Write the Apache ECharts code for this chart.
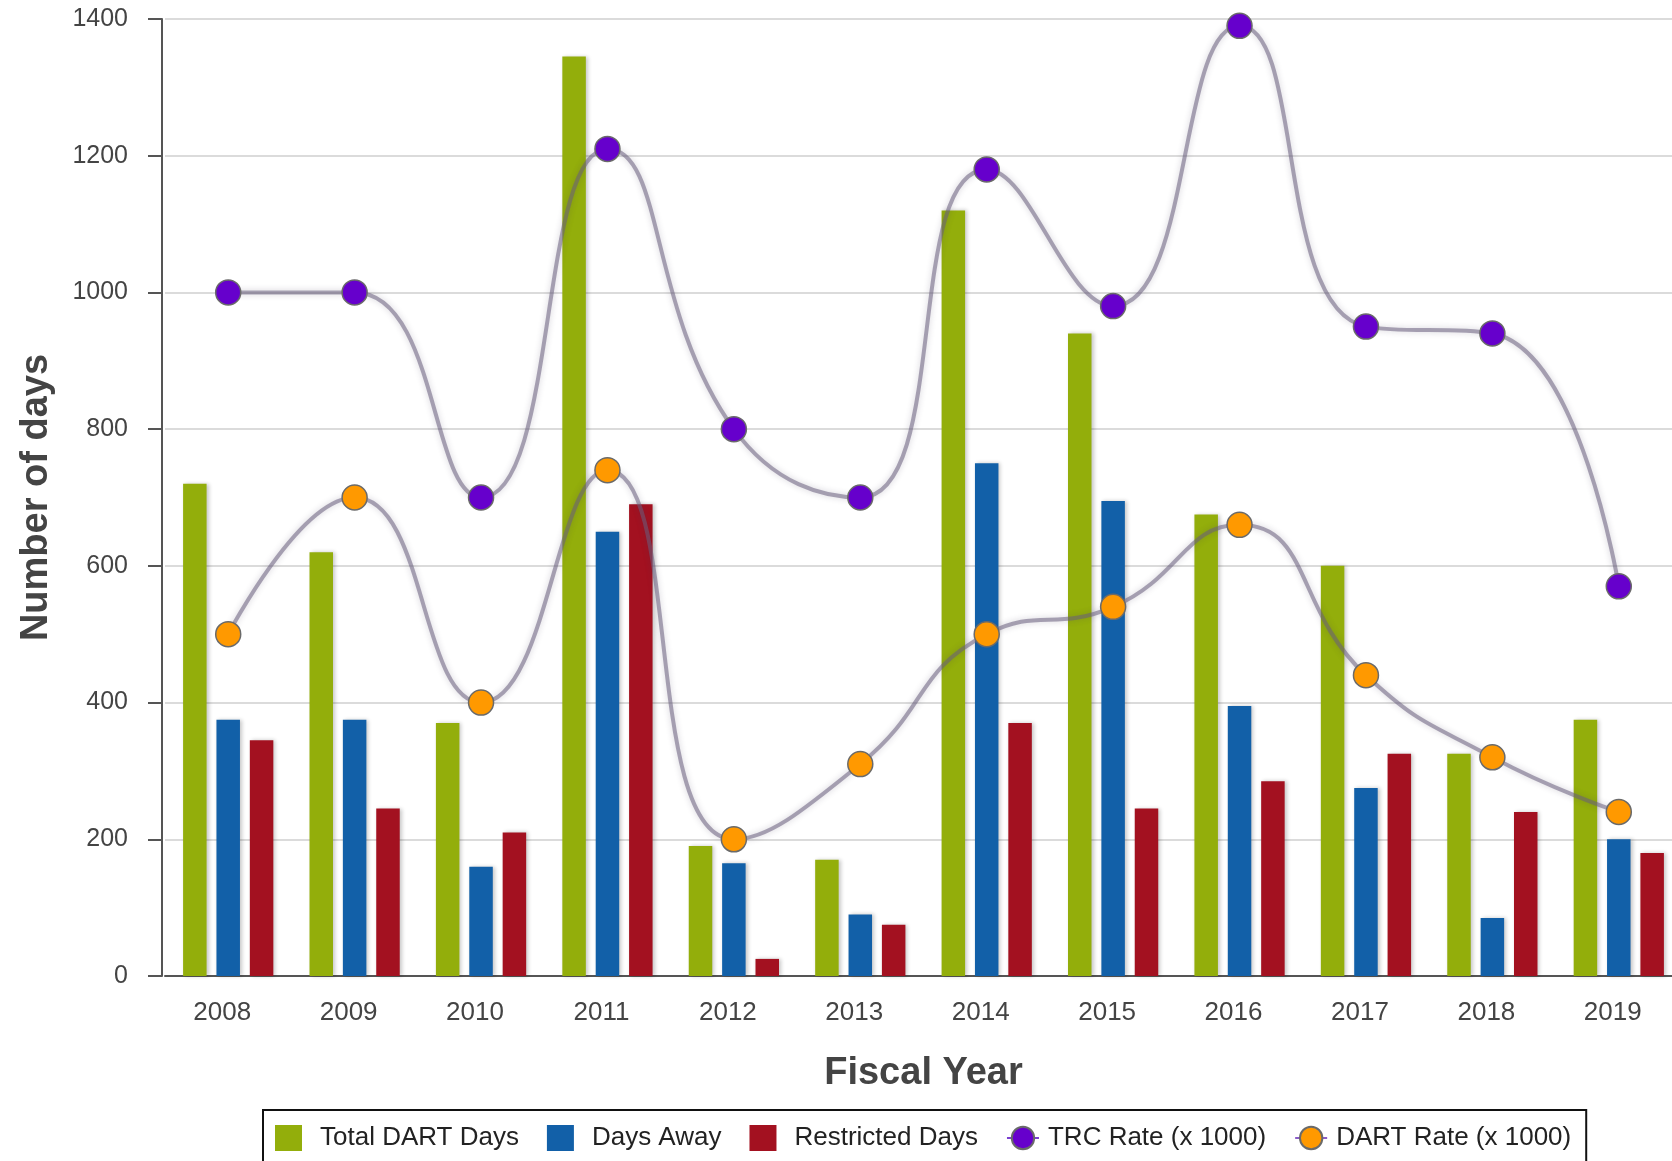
<!DOCTYPE html>
<html>
<head>
<meta charset="utf-8">
<title>Fiscal Year DART Days and Rates</title>
<script src="https://cdn.jsdelivr.net/npm/echarts@6/dist/echarts.min.js"></script>
<style>
  html, body { margin: 0; padding: 0; background: #ffffff; overflow: hidden; }
  /* The plot runs slightly past the right edge of the page, so the canvas is a bit wider */
  #chart { width: 1700px; height: 1161px; }
</style>
</head>
<body>
<div id="chart"></div>
<script>
// Fiscal years on the category axis
const years = ['2008', '2009', '2010', '2011', '2012', '2013', '2014', '2015', '2016', '2017', '2018', '2019'];

// Day counts (bars)
const totalDartDays  = [720, 620, 370, 1345, 190, 170, 1120, 940, 675, 600, 325, 375];
const daysAway       = [375, 375, 160, 650, 165, 90, 750, 695, 395, 275, 85, 200];
const restrictedDays = [345, 245, 210, 690, 25, 75, 370, 245, 285, 325, 240, 180];

// Rates per 1000 (smoothed lines)
const trcRate  = [1000, 1000, 700, 1210, 800, 700, 1180, 980, 1390, 950, 940, 570];
const dartRate = [500, 700, 400, 740, 200, 310, 500, 540, 660, 440, 320, 240];

// Y axis tick values
const yTicks = { min: 0, max: 1400, interval: 200 };

const FONT = '"Liberation Sans", Arial, sans-serif';
const TEXT = '#444444';

const barShadow = {
  shadowBlur: 4,
  shadowColor: 'rgba(0,0,0,0.22)',
  shadowOffsetX: 2,
  shadowOffsetY: 0
};

const rateLine = {
  color: 'rgba(105,95,125,0.55)',
  width: 4,
  shadowBlur: 6,
  shadowColor: 'rgba(60,50,80,0.4)'
};

function barSeries(name, data, color) {
  return {
    name: name,
    type: 'bar',
    data: data,
    barWidth: 23.5,
    barGap: '42%',
    itemStyle: Object.assign({ color: color }, barShadow),
    z: 2
  };
}

function lineSeries(name, data, color) {
  return {
    name: name,
    type: 'line',
    data: data,
    smooth: 0.5,
    symbol: 'circle',
    symbolSize: 25,
    lineStyle: rateLine,
    itemStyle: { color: color, borderColor: '#6a6a6a', borderWidth: 1.5 },
    z: 5
  };
}

// Square legend icon placed at the left of a wider (invisible) box, so it
// keeps its square shape while sharing the legend item width with the line icons
const squareIcon = 'path://M0,1L27,1L27,27L0,27ZM0,0M32,28';
const barLegendText = { padding: [0, 0, 0, 8] };
const lineLegendText = { padding: [0, 0, 0, 4] };

const chart = echarts.init(document.getElementById('chart'), null, { renderer: 'canvas' });

chart.setOption({
  animation: false,
  backgroundColor: '#ffffff',
  textStyle: { fontFamily: FONT },
  grid: { left: 165, top: 19, width: 1517, bottom: 185, containLabel: false },
  legend: {
    top: 1110,
    left: 263,
    itemWidth: 32,
    itemHeight: 28,
    itemGap: 28,
    padding: [14, 15, 24, 12],
    borderColor: '#111111',
    borderWidth: 2,
    textStyle: { fontFamily: FONT, fontSize: 26, color: '#222222' },
    data: [
      { name: 'Total DART Days', icon: squareIcon, textStyle: barLegendText },
      { name: 'Days Away', icon: squareIcon, textStyle: barLegendText },
      { name: 'Restricted Days', icon: squareIcon, textStyle: barLegendText },
      { name: 'TRC Rate (x 1000)', lineStyle: { color: '#7a3fd0', width: 2 }, textStyle: lineLegendText },
      { name: 'DART Rate (x 1000)', lineStyle: { color: '#8a5cc8', width: 2 }, textStyle: lineLegendText }
    ]
  },
  xAxis: {
    type: 'category',
    data: years,
    name: 'Fiscal Year',
    nameLocation: 'middle',
    nameGap: 79,
    nameTextStyle: { fontFamily: FONT, fontSize: 38, fontWeight: 'bold', color: TEXT },
    axisLine: { lineStyle: { color: '#555555', width: 2 } },
    axisTick: { alignWithLabel: true, length: 12, lineStyle: { color: '#555555', width: 2 } },
    axisLabel: { fontFamily: FONT, fontSize: 26, color: TEXT, margin: 24, padding: [0, 12, 0, 0] },
    splitLine: { show: false }
  },
  yAxis: {
    type: 'value',
    min: yTicks.min,
    max: yTicks.max,
    interval: yTicks.interval,
    offset: 3,
    name: 'Number of days',
    nameLocation: 'middle',
    nameGap: 106,
    nameRotate: 90,
    nameTextStyle: { fontFamily: FONT, fontSize: 38, fontWeight: 'bold', color: TEXT },
    axisLine: { show: true, lineStyle: { color: '#555555', width: 2 } },
    axisTick: { show: true, length: 14, lineStyle: { color: '#555555', width: 2 } },
    axisLabel: { fontFamily: FONT, fontSize: 25, color: TEXT, margin: 34, formatter: v => String(v) },
    splitLine: { show: true, lineStyle: { color: '#cfcfcf', width: 1.5 } }
  },
  series: [
    barSeries('Total DART Days', totalDartDays, '#93ae0b'),
    barSeries('Days Away', daysAway, '#1260a8'),
    barSeries('Restricted Days', restrictedDays, '#a31120'),
    lineSeries('TRC Rate (x 1000)', trcRate, '#6600cc'),
    lineSeries('DART Rate (x 1000)', dartRate, '#ff9900')
  ]
});
</script>
</body>
</html>
